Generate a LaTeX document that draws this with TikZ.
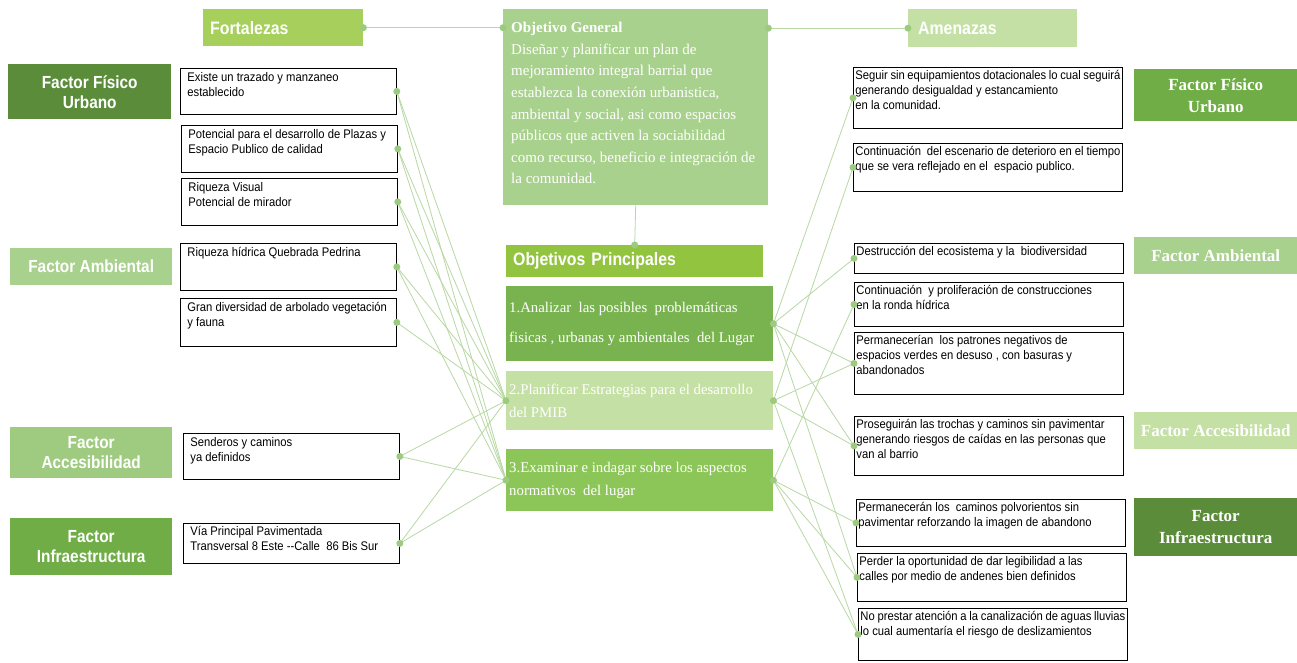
\documentclass[tikz,border=0pt]{standalone}
\usepackage{fontspec}
\setmainfont{Liberation Serif}
\newfontfamily\narrowsans[FakeStretch=0.9]{Liberation Sans}
\newfontfamily\labelsans[FakeStretch=0.88]{Liberation Sans}
\usepackage{tikz}

\definecolor{darkgreen}{HTML}{5B8C3A}
\definecolor{midgreen}{HTML}{70AD47}
\definecolor{softgreen}{HTML}{A9D18E}
\definecolor{palegreen}{HTML}{C5E0A5}
\definecolor{fortgreen}{HTML}{A6CF5C}
\definecolor{prinagreen}{HTML}{93C43F}
\definecolor{objone}{HTML}{78B34F}
\definecolor{objthree}{HTML}{8DC658}
\definecolor{accgreen}{HTML}{9FCB80}
\definecolor{linkgreen}{HTML}{B8D8A4}
\definecolor{dotgreen}{HTML}{9CCB80}

\tikzstyle{factor} = [anchor=north west, text=white, align=center, inner sep=0pt, font=\labelsans\bfseries\fontsize{17.5}{20}\selectfont]
\tikzstyle{rfactor} = [factor, font=\bfseries\fontsize{17}{22}\selectfont]
\tikzstyle{head} = [anchor=north west, text=white, align=left, inner xsep=7pt, inner ysep=0pt, font=\labelsans\bfseries\fontsize{18}{20}\selectfont]
\tikzstyle{fbox} = [draw=black, fill=white, line width=0.8pt, anchor=north west, font=\narrowsans\fontsize{12.5}{15}\selectfont]
\tikzstyle{obj} = [anchor=north west, text=white, align=flush left, minimum width=267pt, text width=261pt, inner xsep=3pt, font=\fontsize{14.8}{23}\selectfont]
\tikzstyle{link} = [draw=linkgreen, line width=0.8pt]
\tikzstyle{dot} = [circle, fill=dotgreen, inner sep=0pt, minimum size=7pt]

\newcommand{\ltxt}[2]{\parbox[t][#1][t]{202pt}{#2}}
\newcommand{\rtxt}[2]{\parbox[t][#1][t]{265pt}{#2}}

\begin{document}
\begin{tikzpicture}[x=1pt,y=-1pt]
	\useasboundingbox[fill=white] (0,0) rectangle (1297,662);

	% headers
	\node[head, fill=fortgreen, minimum width=160pt, minimum height=37pt, text width=146pt] (fort) at (203,9) {Fortalezas};
	\node[head, fill=palegreen, minimum width=163pt, minimum height=38pt, text width=149pt, inner xsep=10pt] (amen) at (908,9) {Amenazas};

	% left factors
	\node[factor, fill=darkgreen, minimum width=163pt, minimum height=55pt] (lfis) at (8,64) {Factor Físico\\Urbano};
	\node[factor, fill=softgreen, minimum width=162pt, minimum height=37pt] (lamb) at (10,248) {Factor Ambiental};
	\node[factor, fill=accgreen, minimum width=162pt, minimum height=51pt] (lacc) at (10,427) {Factor\\Accesibilidad};
	\node[factor, fill=midgreen, minimum width=162pt, minimum height=57pt] (linf) at (10,518) {Factor\\Infraestructura};

	% right factors
	\node[rfactor, fill=midgreen, minimum width=163pt, minimum height=52pt] (rfis) at (1134,69) {Factor Físico\\Urbano};
	\node[rfactor, fill=softgreen, minimum width=163pt, minimum height=37pt] (ramb) at (1134,237) {Factor Ambiental};
	\node[rfactor, fill=palegreen, minimum width=163pt, minimum height=37pt] (racc) at (1134,412) {Factor Accesibilidad};
	\node[rfactor, fill=darkgreen, minimum width=163pt, minimum height=58pt] (rinf) at (1134,498) {Factor\\Infraestructura};

	% fortalezas
	\node[fbox, inner xsep=7pt, inner ysep=4pt] (l1) at (180,68) {\ltxt{38pt}{Existe un trazado y manzaneo\\establecido}};
	\node[fbox, inner xsep=7pt, inner ysep=4pt] (l2) at (181,125) {\ltxt{39pt}{Potencial para el desarrollo de Plazas y\\Espacio Publico de calidad}};
	\node[fbox, inner xsep=7pt, inner ysep=4pt] (l3) at (181,178) {\ltxt{39pt}{Riqueza Visual\\Potencial de mirador}};
	\node[fbox, inner xsep=7pt, inner ysep=4pt] (l4) at (180,243) {\ltxt{39pt}{Riqueza hídrica Quebrada Pedrina\\}};
	\node[fbox, inner xsep=7pt, inner ysep=4pt] (l5) at (180,298) {\ltxt{40pt}{Gran diversidad de arbolado vegetación\\y fauna}};
	\node[fbox, inner xsep=7pt, inner ysep=4pt] (l6) at (183,433) {\ltxt{38pt}{Senderos y caminos\\ya definidos}};
	\node[fbox, inner xsep=7pt, inner ysep=3pt] (l7) at (183,523) {\ltxt{34pt}{Vía Principal Pavimentada\\Transversal 8 Este --Calle\ \ 86 Bis Sur}};

	% amenazas
	\node[fbox, inner xsep=2pt, inner ysep=3pt] (r1) at (853,67) {\rtxt{55pt}{Seguir sin equipamientos dotacionales lo cual seguirá\\generando desigualdad y estancamiento\\en la comunidad.}};
	\node[fbox, inner xsep=2pt, inner ysep=3pt] (r2) at (853,143) {\rtxt{42pt}{Continuación\ \ del escenario de deterioro en el tiempo\\que se vera reflejado en el\ \ espacio publico.}};
	\node[fbox, inner xsep=2pt, inner ysep=3pt] (r3) at (854,243) {\rtxt{24pt}{Destrucción del ecosistema y la\ \ biodiversidad}};
	\node[fbox, inner xsep=2pt, inner ysep=3pt] (r4) at (854,282) {\rtxt{38pt}{Continuación\ \ y proliferación de construcciones\\en la ronda hídrica}};
	\node[fbox, inner xsep=2pt, inner ysep=3pt] (r5) at (854,332) {\rtxt{56pt}{Permanecerían\ \ los patrones negativos de\\espacios verdes en desuso , con basuras y\\abandonados}};
	\node[fbox, inner xsep=2pt, inner ysep=3pt] (r6) at (854,416) {\rtxt{53pt}{Proseguirán las trochas y caminos sin pavimentar\\generando riesgos de caídas en las personas que\\van al barrio}};
	\node[fbox, inner xsep=2pt, inner ysep=3pt] (r7) at (856,499) {\rtxt{41pt}{Permanecerán los\ \ caminos polvorientos sin\\pavimentar reforzando la imagen\ de abandono}};
	\node[fbox, inner xsep=2pt, inner ysep=3pt] (r8) at (857,553) {\rtxt{42pt}{Perder la oportunidad de dar legibilidad a las\\calles por medio\ de andenes bien\ definidos}};
	\node[fbox, inner xsep=2pt, inner ysep=3pt] (r9) at (858,608) {\rtxt{46pt}{No\ prestar atención a la canalización de aguas lluvias\\lo cual aumentaría\ el riesgo de deslizamientos}};

	% objetivos
	\node[anchor=north west, fill=softgreen, text=white, inner xsep=8pt, inner ysep=13pt, font=\fontsize{15}{21.6}\selectfont] (ogen) at (503,9) {\parbox[t][170pt][t]{249pt}{\textbf{Objetivo General}\\Diseñar y planificar\ un plan de\\mejoramiento\ integral barrial que\\establezca la conexión urbanistica,\\ambiental y social, asi como espacios\\públicos\ que activen la sociabilidad\\como recurso, beneficio\ e integración de\\la comunidad.}};
	\node[head, fill=prinagreen, minimum width=257pt, minimum height=32pt, text width=243pt, inner xsep=4pt] (oprin) at (506,245) {Objetivos Principales};
	\node[obj, fill=objone, minimum height=75pt, font=\fontsize{14.8}{30}\selectfont] (o1) at (506,286) {1.Analizar\ \ las posibles\ \ problemáticas\\fisicas , urbanas y ambientales\ \ del Lugar};
	\node[obj, fill=palegreen, minimum height=59pt] (o2) at (506,371) {2.Planificar Estrategias para el desarrollo\\del PMIB};
	\node[obj, fill=objthree, minimum height=62pt] (o3) at (506,449) {3.Examinar e indagar sobre los aspectos\\normativos\ \ del lugar};

	% connectors
	\draw[link] (fort.east) -- (fort.east -| ogen.west);
	\draw[link] (amen.west -| ogen.east) -- (amen.west);
	\draw[link] (ogen.south) -- (oprin.north);
	\foreach \n in {l1,l2,l3,l4,l6,l7} {
		\draw[link] (\n.east) -- (o2.west);
		\draw[link] (\n.east) -- (o3.west);
	}
	\draw[link] (l5.east) -- (o2.west);
	\foreach \a/\b in {o1/r1,o1/r3,o1/r5,o1/r6,o1/r8,o2/r2,o2/r5,o2/r6,o2/r9,o3/r4,o3/r7,o3/r8,o3/r9}
		\draw[link] (\a.east) -- (\b.west);

	% dots
	\node[dot] (dfort) at (fort.east) {};
	\node[dot] (dgenl) at (fort.east -| ogen.west) {};
	\node[dot] (dgenr) at (amen.west -| ogen.east) {};
	\node[dot] (damen) at (amen.west) {};
	\node[dot] (dprin) at (oprin.north) {};
	\foreach \n in {l1,l2,l3,l4,l5,l6,l7}
		\node[dot] (d\n) at (\n.east) {};
	\foreach \n in {r1,r2,r3,r4,r5,r6,r7,r8,r9}
		\node[dot] (d\n) at (\n.west) {};
	\foreach \n in {o1,o2,o3}
		\node[dot] (de\n) at (\n.east) {};
	\node[dot] (dwo2) at (o2.west) {};
	\node[dot] (dwo3) at (o3.west) {};
\end{tikzpicture}
\end{document}
